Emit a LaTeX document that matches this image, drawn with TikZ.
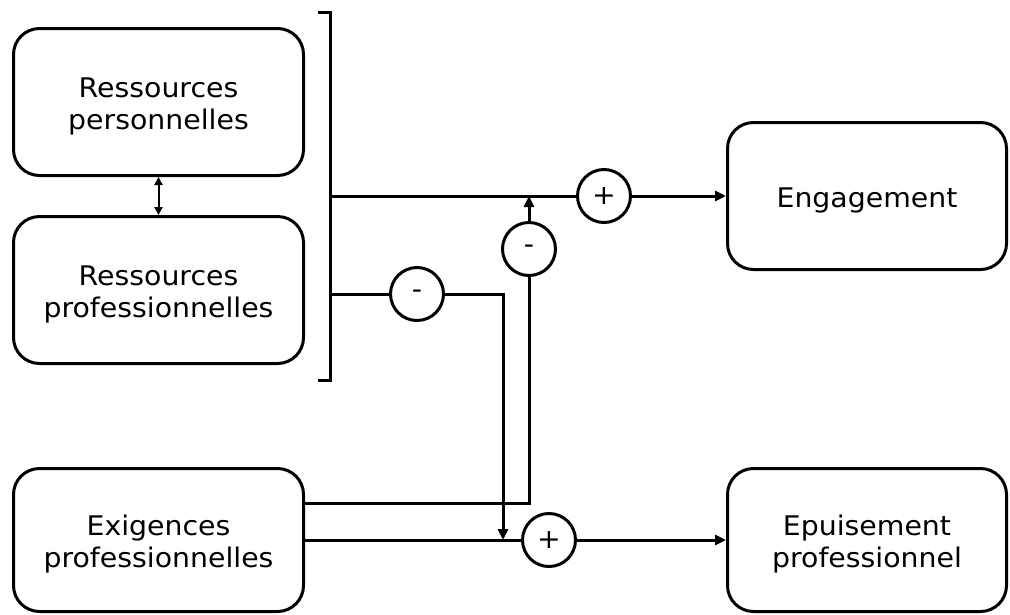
\documentclass[tikz,border=0pt]{standalone}
\usepackage{fontspec}
\setmainfont{DejaVu Sans}[FakeStretch=1.05]
\usetikzlibrary{arrows.meta}
\newcommand{\topstrut}{\rule{0pt}{28.5pt}}
\begin{document}
\begin{tikzpicture}[x=1pt,y=-1pt,
  box/.style={draw,line width=3pt,rounded corners=26pt,align=center,
    font=\fontsize{27}{32}\selectfont,inner sep=0pt},
  lbox/.style={box,minimum width=290pt,minimum height=147pt},
  rbox/.style={box,minimum width=279pt,minimum height=147pt},
  sumnode/.style={draw,circle,line width=3pt,minimum size=53pt,inner sep=0pt,
    font=\fontsize{27}{30}\selectfont},
  conn/.style={line width=3pt},
  arr/.style={conn,-{Triangle[length=11pt,width=10pt]}},
  darr/.style={line width=2pt,{Triangle[length=8pt,width=8pt]}-{Triangle[length=8pt,width=8pt]}},
  bracket/.style={line width=3pt}]
\useasboundingbox (0,0) rectangle (1010,614);
% boxes
\node[lbox] (rp) at (158.5,102) {\topstrut Ressources\\personnelles};
\node[lbox] (rpro) at (158.5,290) {\topstrut Ressources\\professionnelles};
\node[lbox,minimum height=143pt] (exi) at (158.5,540) {\topstrut Exigences\\professionnelles};
\node[rbox] (eng) at (867,196) {\topstrut Engagement};
\node[rbox,minimum height=143pt] (epu) at (867,540) {\topstrut Epuisement\\professionnel};
% sum nodes
\node[sumnode] (p1) at (604,196) {+};
\node[sumnode] (m1) at (529,249) {-};
\node[sumnode] (m2) at (417,294) {-};
\node[sumnode] (p2) at (549,540) {+};
% bracket
\coordinate (bt) at (318,12);
\coordinate (bb) at (318,380);
\coordinate (br1) at (330,196);
\coordinate (br2) at (330,294);
\draw[bracket] (bt) -- (330,12) -- (330,380) -- (bb);
% connectors
\draw[darr] (rp.south) -- (rpro.north);
\draw[conn] (br1) -- (p1.west);
\draw[arr] (p1.east) -- (eng.west);
\draw[conn] (br2) -- (m2.west);
\coordinate (j2) at (503,540);
\draw[arr] (m2.east) -| (j2);
\coordinate (e1) at ([yshift=37pt]exi.east);
\draw[conn] (e1) -| (m1.south);
\draw[arr] (m1.north) -- (m1.north |- p1);
\draw[conn] (exi.east) -- (p2.west);
\draw[arr] (p2.east) -- (epu.west);
\end{tikzpicture}
\end{document}
